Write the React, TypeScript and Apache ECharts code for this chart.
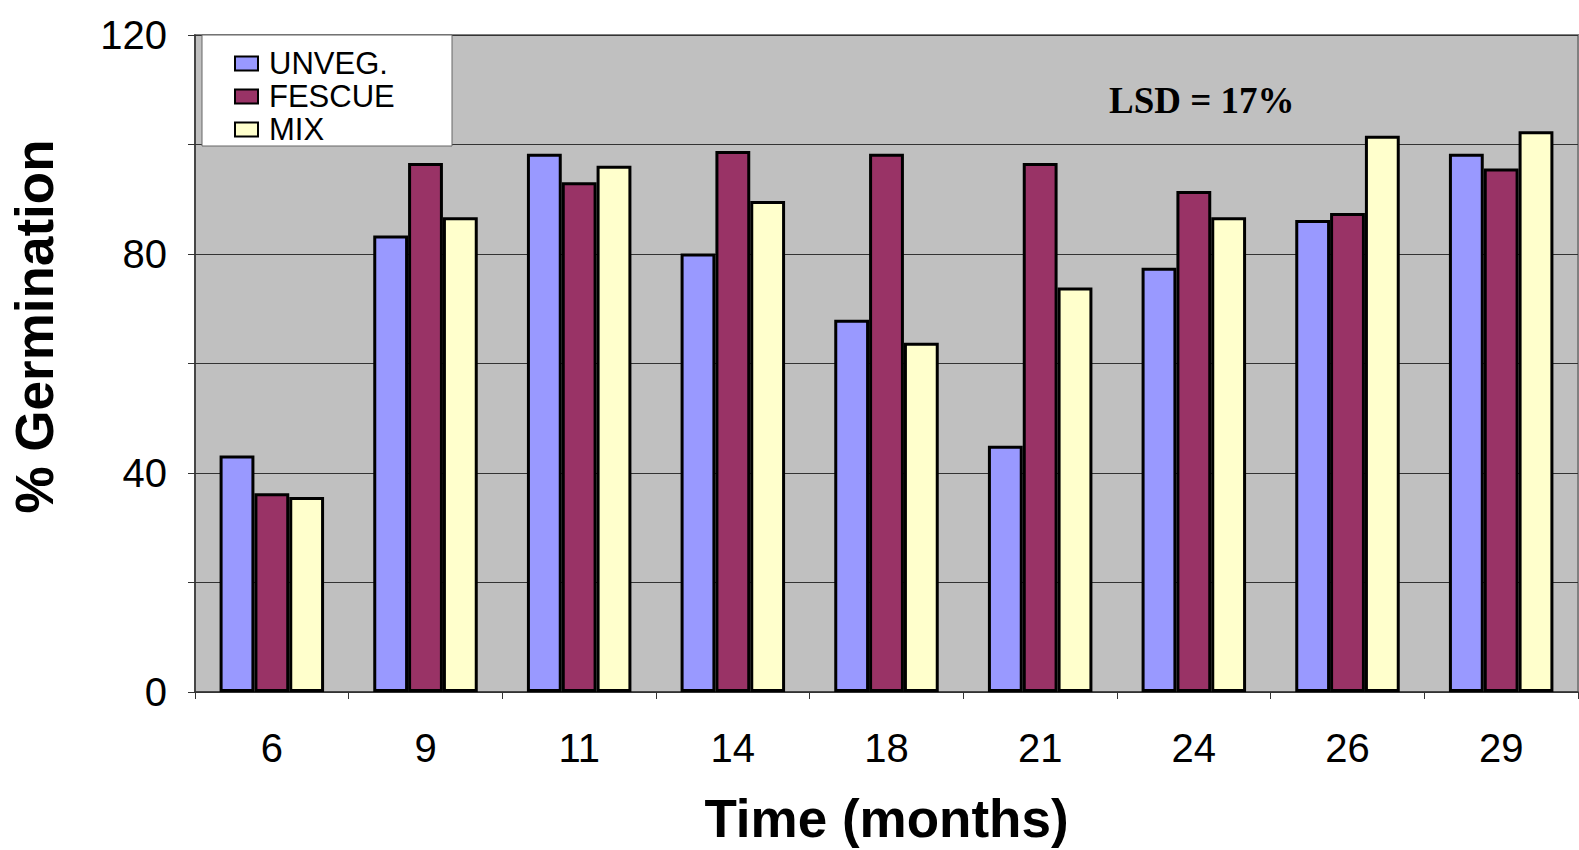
import React, { useEffect, useRef } from "react";
import * as echarts from "echarts";

const categories = ["6", "9", "11", "14", "18", "21", "24", "26", "29"];
const unveg = [43.2, 83.4, 98.3, 80.1, 68.0, 45.0, 77.5, 86.2, 98.3];
const fescue = [36.3, 96.6, 93.1, 98.8, 98.3, 96.6, 91.5, 87.5, 95.6];
const mix = [35.6, 86.7, 96.1, 89.7, 63.8, 73.9, 86.7, 101.6, 102.4];
const seriesNames = ["UNVEG.", "FESCUE", "MIX"];
const seriesColors = ["#9999FF", "#993366", "#FFFFCC"];
const yTickLabels = [0, 40, 80, 120];

export default function App() {
  const ref = useRef<HTMLDivElement>(null);
  useEffect(() => {
    if (!ref.current) return;
    const chart = echarts.init(ref.current, null, { renderer: "svg" });
    const data = [unveg, fescue, mix];
    chart.setOption({
      animation: false,
      grid: {
        left: 195,
        top: 35,
        right: 1,
        bottom: 157,
        show: true,
        backgroundColor: "#C0C0C0",
        borderColor: "#808080",
        borderWidth: 2,
      },
      legend: {
        orient: "vertical",
        left: 234,
        top: 48,
        padding: 0,
        itemWidth: 23,
        itemHeight: 14,
        itemGap: 2,
        icon: "rect",
        z: 5,
        selectedMode: false,
        data: seriesNames,
        textStyle: {
          fontFamily: "Liberation Sans, Arial, sans-serif",
          fontSize: 31,
          lineHeight: 30,
          color: "#000",
          padding: [0, 0, 0, 6],
        },
      },
      graphic: [
        {
          type: "rect",
          z: 3,
          shape: { x: 202, y: 35, width: 250, height: 111 },
          style: { fill: "#fff", stroke: "#666", lineWidth: 1 },
        },
        {
          type: "text",
          z: 3,
          x: 1109,
          y: 100,
          style: {
            text: "LSD = 17%",
            font: "bold 37px 'Liberation Serif', 'Times New Roman', serif",
            fill: "#000",
            verticalAlign: "middle",
            textAlign: "left",
          },
        },
      ],
      xAxis: {
        type: "category",
        data: categories,
        boundaryGap: true,
        name: "Time (months)",
        nameLocation: "middle",
        nameGap: 100,
        nameTextStyle: {
          fontFamily: "Liberation Sans, Arial, sans-serif",
          fontSize: 53,
          fontWeight: "bold",
          color: "#000",
        },
        axisLine: { lineStyle: { color: "#333", width: 1.5 } },
        axisTick: { show: true, length: 7, inside: false, lineStyle: { color: "#333" } },
        axisLabel: {
          margin: 36,
          fontFamily: "Liberation Sans, Arial, sans-serif",
          fontSize: 40,
          color: "#000",
        },
      },
      yAxis: {
        type: "value",
        min: 0,
        max: 120,
        interval: 20,
        name: "% Germination",
        nameLocation: "middle",
        nameRotate: 90,
        nameGap: 134,
        nameTextStyle: {
          fontFamily: "Liberation Sans, Arial, sans-serif",
          fontSize: 53,
          fontWeight: "bold",
          color: "#000",
          padding: [0, 0, 0, 74],
        },
        axisLine: { show: true, lineStyle: { color: "#333", width: 1.5 } },
        axisTick: { show: true, length: 7, inside: false, lineStyle: { color: "#333" } },
        splitLine: { show: true, lineStyle: { color: "#333", width: 1 } },
        axisLabel: {
          margin: 28,
          fontFamily: "Liberation Sans, Arial, sans-serif",
          fontSize: 40,
          color: "#000",
          formatter: (v: number) => (yTickLabels.indexOf(v) >= 0 ? String(v) : ""),
        },
      },
      series: seriesNames.map((name, i) => ({
        name,
        type: "bar",
        data: data[i],
        barGap: "0%",
        barCategoryGap: "32%",
        itemStyle: { color: seriesColors[i], borderColor: "#000", borderWidth: 3 },
      })),
    });
    return () => chart.dispose();
  }, []);
  return (
    <div
      ref={ref}
      style={{ position: "absolute", left: 0, top: 0, width: 1579, height: 850 }}
    />
  );
}
